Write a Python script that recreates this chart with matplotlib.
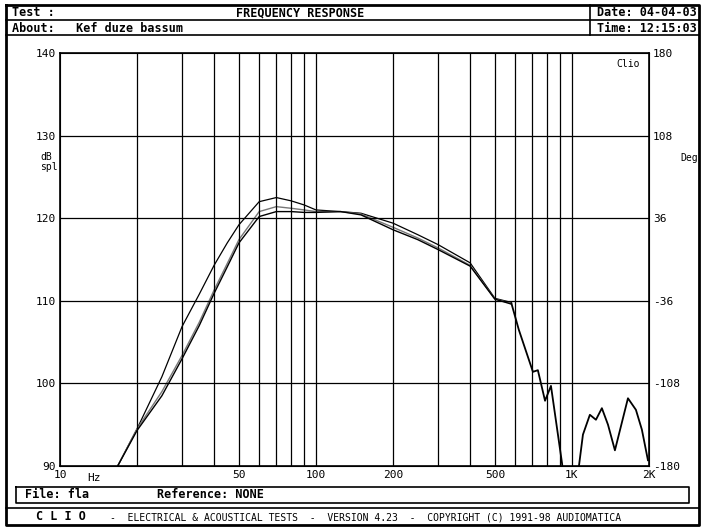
import matplotlib
matplotlib.use("Agg")
import matplotlib.pyplot as plt
import numpy as np

freq_lo = [16.8, 20, 25, 30, 35, 40, 45, 50, 60, 70, 80, 90, 100, 125, 150, 200, 250, 300, 400, 500, 580]
curve_a = [90, 94.5, 100.8, 106.9, 110.8, 114.3, 117.0, 119.2, 122.0, 122.5, 122.1, 121.6, 121.0, 120.8, 120.6, 119.4, 118.0, 116.8, 114.6, 110.3, 109.8]
curve_b = [90, 94.5, 99.0, 103.4, 107.4, 111.3, 114.5, 117.4, 120.8, 121.4, 121.2, 121.0, 120.8, 120.8, 120.5, 118.9, 117.6, 116.4, 114.3, 110.2, 109.7]
curve_c = [90, 94.3, 98.5, 103.0, 107.0, 110.9, 114.1, 117.0, 120.2, 120.8, 120.8, 120.7, 120.7, 120.8, 120.4, 118.6, 117.4, 116.2, 114.2, 110.2, 109.6]
freq_hi = [580, 620, 704, 736, 785, 828, 914, 960, 1030, 1065, 1104, 1175, 1241, 1309, 1383, 1472, 1655, 1778, 1876, 1981]
spl_hi = [109.7, 106.5, 101.4, 101.6, 97.9, 99.7, 90.4, 85, 85, 90.0, 93.8, 96.2, 95.6, 97.0, 95.0, 91.9, 98.2, 96.8, 94.4, 90.7]

xticks = [10, 50, 100, 200, 500, 1000, 2000]
xticklabels = ["10", "50", "100", "200", "500", "1K", "2K"]
yticks = [90, 100, 110, 120, 130, 140]
deg_labels = ["-180", "-108", "-36", "36", "108", "180"]

W, H = 705, 530
fig = plt.figure(figsize=(W/100, H/100), dpi=100)
mono = "DejaVu Sans Mono"

ax = fig.add_axes([60/W, 1-466/H, (649-60)/W, (466-53)/H])
ax.set_xscale("log")
ax.set_xlim(10, 2000)
ax.set_ylim(90, 140)
ax.plot(freq_lo, curve_a, color="black", lw=0.9)
ax.plot(freq_lo, curve_b, color="#777777", lw=1.0)
ax.plot(freq_lo, curve_c, color="black", lw=1.0)
ax.plot(freq_hi, spl_hi, color="black", lw=1.3)
grid_f = [f for d in (10, 100, 1000) for f in np.arange(1, 10)*d if f <= 2000]
for f in grid_f:
    if 10 < f < 2000:
        ax.axvline(f, color="black", lw=0.9)
for y in yticks[1:-1]:
    ax.axhline(y, color="black", lw=0.9)
ax.set_xticks(xticks)
ax.set_xticklabels(xticklabels, fontfamily=mono, fontsize=8)
ax.xaxis.set_minor_locator(matplotlib.ticker.NullLocator())
ax.set_yticks(yticks)
ax.set_yticklabels([str(v) for v in yticks], fontfamily=mono, fontsize=8)
ax.tick_params(length=0, pad=3)
for s in ax.spines.values():
    s.set_linewidth(1.2)
ax2 = ax.twinx()
ax2.set_ylim(90, 140)
ax2.set_yticks(yticks)
ax2.set_yticklabels(deg_labels, fontfamily=mono, fontsize=8)
ax2.tick_params(length=0, pad=3)
ax.text(0.985, 0.985, "Clio", transform=ax.transAxes, ha="right", va="top", fontfamily=mono, fontsize=7)

ov = fig.add_axes([0, 0, 1, 1], facecolor="none")
ov.set_xlim(0, W); ov.set_ylim(H, 0); ov.axis("off")
def box(x0, y0, x1, y1, lw=1.2):
    ov.plot([x0, x1, x1, x0, x0], [y0, y0, y1, y1, y0], color="black", lw=lw)
box(6, 5, 699, 525, 2.0)
ov.plot([6, 699], [20, 20], color="black", lw=1.2)
ov.plot([6, 699], [35, 35], color="black", lw=1.2)
ov.plot([590, 590], [5, 35], color="black", lw=1.2)
ov.plot([6, 699], [508, 508], color="black", lw=1.2)
box(16, 487, 689, 503, 1.2)
kw = dict(fontfamily=mono, fontsize=8.5, va="center", fontweight="bold")
ov.text(12, 13, "Test :", **kw)
ov.text(300, 13, "FREQUENCY RESPONSE", ha="center", **kw)
ov.text(597, 13, "Date: 04-04-03", **kw)
ov.text(12, 28, "About:   Kef duze bassum", **kw)
ov.text(597, 28, "Time: 12:15:03", **kw)
ov.text(25, 495, "File: fla", **kw)
ov.text(157, 495, "Reference: NONE", **kw)
ov.text(36, 517, "C L I O", **kw)
ov.text(110, 517, "-  ELECTRICAL & ACOUSTICAL TESTS  -  VERSION 4.23  -  COPYRIGHT (C) 1991-98 AUDIOMATICA",
        fontfamily=mono, fontsize=7, va="center")
ov.text(40, 157, "dB", fontfamily=mono, fontsize=7, va="center")
ov.text(40, 167, "spl", fontfamily=mono, fontsize=7, va="center")
ov.text(680, 158, "Deg", fontfamily=mono, fontsize=7, va="center")
ov.text(87, 478, "Hz", fontfamily=mono, fontsize=8, va="center")

fig.savefig("out.png", dpi=100)
